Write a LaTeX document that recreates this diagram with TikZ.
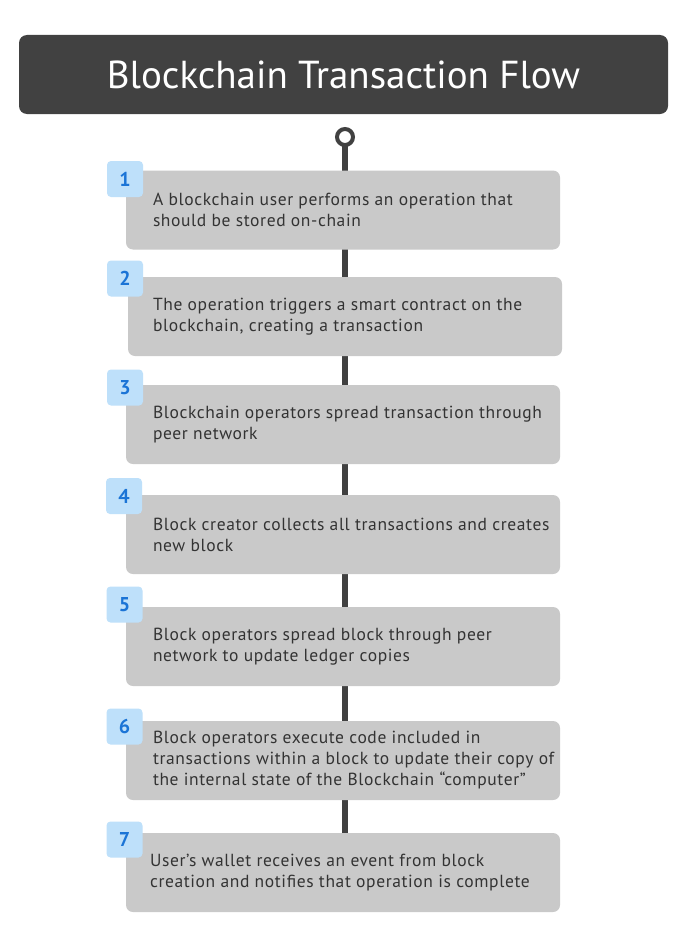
\documentclass[tikz,border=0pt]{standalone}
\usepackage{fontspec}
\setmainfont{PT Sans}
\newfontfamily\stepfont[LetterSpace=3.5]{PT Sans}
\usetikzlibrary{backgrounds}
\definecolor{darkbar}{HTML}{414141}
\definecolor{boxgray}{HTML}{C9C9C9}
\definecolor{badgeblue}{HTML}{BEE0FA}
\definecolor{numblue}{HTML}{1B74D6}
\definecolor{textgray}{HTML}{333333}
\begin{document}
\begin{tikzpicture}[x=1pt, y=-1pt,
    stepbox/.style = {fill=boxgray, rounded corners=7pt, minimum width=434pt,
        minimum height=79pt},
    steptext/.style = {anchor=west, align=left, inner sep=0pt, text=textgray,
        font=\stepfont\fontsize{17.5}{21}\selectfont},
    badge/.style = {fill=badgeblue, rounded corners=4pt, minimum size=36pt,
        inner sep=0pt, text=numblue, font=\fontsize{20}{20}\selectfont\bfseries}]
    \useasboundingbox (0,0) rectangle (687,950);

    \node[fill=darkbar, rounded corners=8pt, minimum width=649pt, minimum height=79pt,
        text=white, font=\fontsize{39}{39}\selectfont] (title) at (343.5,74.5)
        {Blockchain Transaction Flow};
    \node[circle, draw=darkbar, line width=4pt, fill=white, minimum size=16pt,
        inner sep=0pt] (ring) at (345,137) {};

    \node[stepbox] (step1) at (343,210) {};
    \node[stepbox] (step2) at (345,316.5) {};
    \node[stepbox] (step3) at (343,424.5) {};
    \node[stepbox] (step4) at (343,534.5) {};
    \node[stepbox] (step5) at (343,646.5) {};
    \node[stepbox] (step6) at (343,760.5) {};
    \node[stepbox] (step7) at (343,872.5) {};

    \node[steptext] (text1) at ([xshift=27pt]step1.west)
        {A blockchain user performs an operation that\\should be stored on-chain};
    \node[steptext] (text2) at ([xshift=25pt]step2.west)
        {The operation triggers a smart contract on the\\blockchain, creating a transaction};
    \node[steptext] (text3) at ([xshift=27pt]step3.west)
        {Blockchain operators spread transaction through\\peer network};
    \node[steptext] (text4) at ([xshift=27pt]step4.west)
        {Block creator collects all transactions and creates\\new block};
    \node[steptext] (text5) at ([xshift=27pt]step5.west)
        {Block operators spread block through peer\\network to update ledger copies};
    \node[steptext] (text6) at ([xshift=27pt]step6.west)
        {Block operators execute code included in\\transactions within a block to update their copy of\\the internal state of the Blockchain “computer”};
    \node[steptext] (text7) at ([xshift=24pt]step7.west)
        {User’s wallet receives an event from block\\creation and notifies that operation is complete};

    \node[badge] (num1) at (125,179) {1};
    \node[badge] (num2) at (125,278.5) {2};
    \node[badge] (num3) at (125,387.5) {3};
    \node[badge] (num4) at (124,496) {4};
    \node[badge] (num5) at (124.5,604.5) {5};
    \node[badge] (num6) at (124.5,726.5) {6};
    \node[badge] (num7) at (124.5,839.5) {7};

    \begin{scope}[on background layer]
        \fill[white] (0,0) rectangle (687,950);
        \draw[darkbar, line width=6pt] (ring.center) -- (ring.center |- step7.center);
    \end{scope}
\end{tikzpicture}
\end{document}
